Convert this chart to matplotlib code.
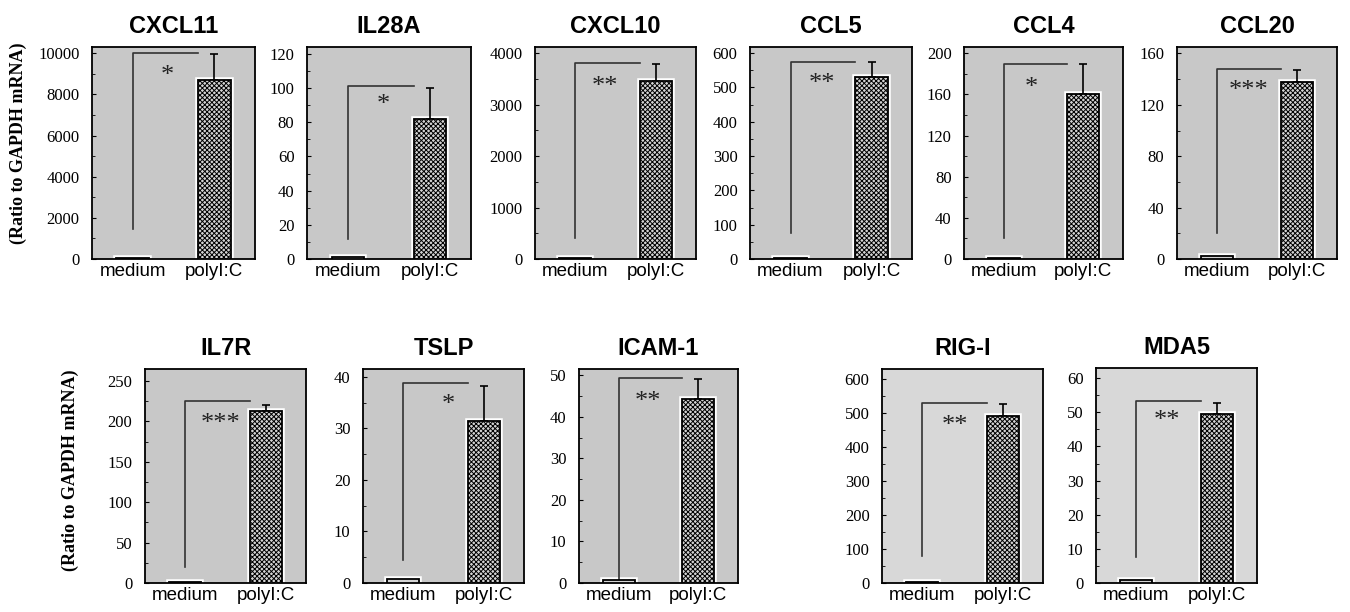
import numpy as np
import matplotlib
matplotlib.use('Agg')
import matplotlib.pyplot as plt
from matplotlib.ticker import MultipleLocator

plt.rcParams['hatch.linewidth'] = 0.7

# values
genes = ['CXCL11', 'IL28A', 'CXCL10', 'CCL5', 'CCL4', 'CCL20',
         'IL7R', 'TSLP', 'ICAM-1', 'RIG-I', 'MDA5']
groups = ['medium', 'polyI:C']
medium = [30, 1.0, 15, 2, 1, 2.5, 1, 0.8, 0.8, 2, 1.0]
polyic = [8700, 82, 3450, 530, 160, 138, 213, 31.5, 44.3, 491, 49.4]
polyic_err = [1250, 18, 330, 45, 29, 9, 8, 6.7, 4.7, 36, 3.3]
stars = ['*', '*', '**', '**', '*', '***', '***', '*', '**', '**', '**']
star_x = [0.42, 0.43, 0.37, 0.39, 0.35, 0.39, 0.44, 0.56, 0.37, 0.41, 0.38]
star_y = [8900, 90, 3350, 510, 166, 131, 197, 34.5, 43.5, 462, 47.5]
brk_top = [10000, 101, 3800, 575, 189, 148, 225, 38.8, 49.3, 530, 53.3]
brk_bot = [1450, 11.7, 410, 75, 20, 20, 20, 4.5, 1.0, 79, 7.6]
ymax = [10300, 124, 4120, 618, 206, 165, 265, 41.5, 51.5, 630, 63]
ystep = [2000, 20, 1000, 100, 40, 40, 50, 10, 10, 100, 10]

# panel boxes in pixels: left, right, top, bottom
boxes = [(92, 255, 47, 259), (307, 471, 47, 259), (535, 696, 47, 259),
         (750, 912, 47, 259), (964, 1123, 47, 259), (1177, 1337, 47, 259),
         (145, 306, 369, 583), (363, 524, 369, 583), (579, 738, 369, 583),
         (882, 1043, 369, 583), (1096, 1257, 368, 583)]
W, H = 1350, 612

fig = plt.figure(figsize=(13.5, 6.12), dpi=100)

for i, g in enumerate(genes):
    l, r, t, b = boxes[i]
    ax = fig.add_axes([l / W, 1 - b / H, (r - l) / W, (b - t) / H])
    bg = '#d8d8d8' if i >= 9 else '#c8c8c8'
    ax.set_facecolor(bg)
    x = np.arange(2)
    vals = [medium[i], polyic[i]]
    # white halo under the bars
    ax.bar(x, vals, width=0.4, color='white', edgecolor='white', linewidth=4, zorder=2)
    ax.bar(x, vals, width=0.4, color='#d4d4d4', edgecolor='black', linewidth=1.3,
           hatch=['', 'xxxxxxx'], zorder=3)
    ax.errorbar([1], [polyic[i]], yerr=[[0], [polyic_err[i]]], fmt='none',
                ecolor='black', elinewidth=1.2, capsize=3, capthick=1.2, zorder=2)
    # significance bracket
    ax.plot([0, 0, 0.8], [brk_bot[i], brk_top[i], brk_top[i]], color='#333333',
            lw=1.2, zorder=2)
    ax.text(star_x[i], star_y[i], stars[i], ha='center', va='center', fontsize=19,
            family='Liberation Serif', color='#222222', zorder=4)
    ax.set_xlim(-0.5, 1.5)
    ax.set_ylim(0, ymax[i])
    ax.yaxis.set_major_locator(MultipleLocator(ystep[i]))
    ax.yaxis.set_minor_locator(MultipleLocator(ystep[i] / 2))
    ax.set_xticks(x)
    ax.set_xticklabels(groups, family='Liberation Sans', fontsize=13.5)
    ax.tick_params(axis='x', length=0, pad=3)
    ax.tick_params(axis='y', which='major', direction='in', length=3, width=0.8,
                   labelsize=12, pad=9)
    ax.tick_params(axis='y', which='minor', direction='in', length=2, width=0.6)
    for lab in ax.get_yticklabels():
        lab.set_family('Liberation Serif')
    for s in ax.spines.values():
        s.set_linewidth(1.3)
    ax.set_title(g, family='Liberation Sans', fontweight='bold', fontsize=17, pad=10)

fig.text(18 / W, 1 - 143 / H, '(Ratio to GAPDH mRNA)', rotation=90, ha='center',
         va='center', family='Liberation Serif', fontweight='bold', fontsize=13)
fig.text(70 / W, 1 - 470 / H, '(Ratio to GAPDH mRNA)', rotation=90, ha='center',
         va='center', family='Liberation Serif', fontweight='bold', fontsize=13)

fig.savefig('out.png', dpi=100, facecolor='white')
